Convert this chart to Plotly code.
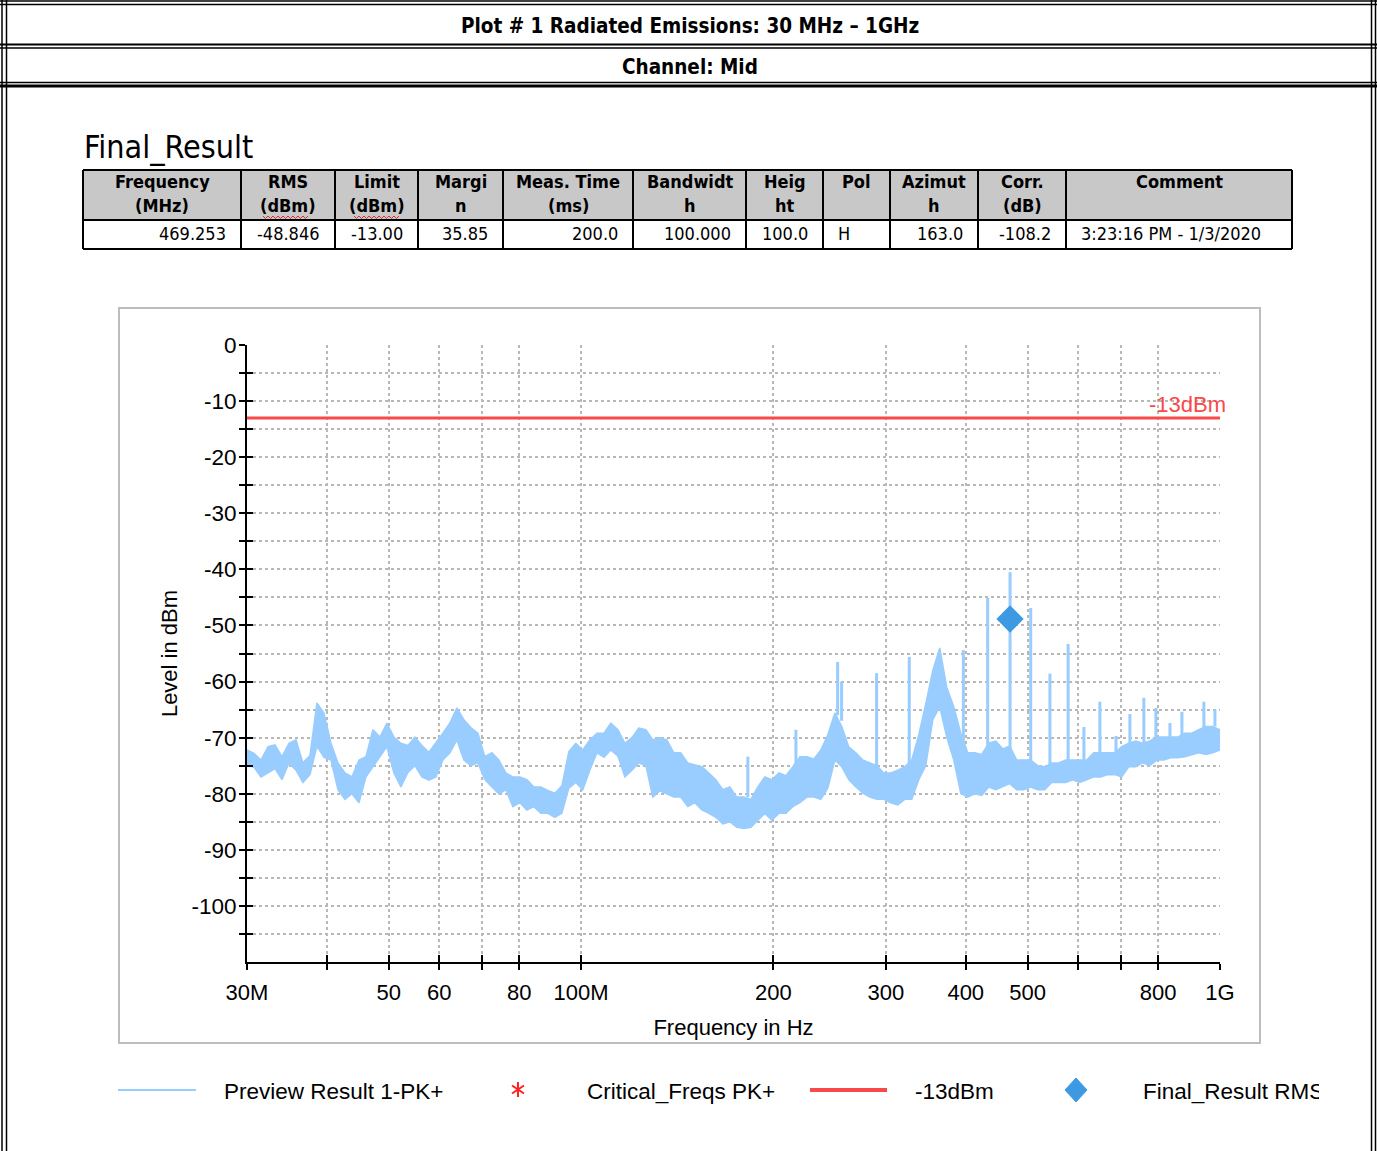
import math
import plotly.graph_objects as go

# ---------------- data ----------------
freq_mhz = [30.0, 30.77, 31.55, 32.36, 33.18, 34.03, 34.90, 35.79, 36.70, 37.64,
            38.60, 39.59, 40.60, 41.64, 42.70, 43.79, 44.91, 46.06, 47.23, 48.44,
            49.67, 50.94, 52.24, 53.58, 54.94, 56.35, 57.79, 59.26, 60.77, 62.33,
            63.92, 65.55, 67.22, 68.94, 70.70, 72.51, 74.36, 76.26, 78.21, 80.20,
            82.25, 84.35, 86.51, 88.72, 90.98, 93.31, 95.69, 98.13, 100.6, 103.2,
            105.9, 108.6, 111.3, 114.2, 117.1, 120.1, 123.1, 126.3, 129.5, 132.8,
            136.2, 139.7, 143.2, 146.9, 150.7, 154.5, 158.5, 162.5, 166.7, 170.9,
            175.3, 179.8, 184.4, 189.1, 193.9, 198.9, 204.0, 209.2, 214.5, 220.0,
            225.6, 231.4, 237.3, 243.3, 249.6, 255.9, 262.5, 269.2, 276.0, 283.1,
            290.3, 297.7, 305.3, 313.1, 321.1, 329.3, 337.7, 346.3, 355.2, 364.2,
            373.5, 383.1, 392.9, 402.9, 413.2, 423.7, 434.6, 445.7, 457.0, 468.7,
            480.7, 493.0, 505.5, 518.5, 531.7, 545.3, 559.2, 573.5, 588.1, 603.2,
            618.6, 634.4, 650.6, 667.2, 684.3, 701.8, 719.7, 738.1, 757.0, 776.3,
            796.2, 816.5, 837.4, 858.8, 880.7, 903.2, 926.3, 950.0, 974.3, 1000.0]

preview_upper_dbm = [-72.2, -72.8, -74.0, -71.6, -71.3, -73.4, -71.0, -70.4, -74.5, -73.2,
                     -63.8, -65.6, -71.0, -74.5, -76.3, -77.0, -74.0, -73.4, -68.6, -69.9,
                     -67.4, -69.9, -71.0, -71.4, -69.9, -71.4, -72.6, -71.0, -69.2, -67.4,
                     -64.7, -66.8, -68.2, -69.2, -73.4, -72.7, -74.0, -76.3, -77.0, -77.0,
                     -77.5, -78.8, -78.8, -79.4, -79.9, -78.6, -72.5, -71.0, -72.2, -70.4,
                     -69.2, -69.2, -67.4, -68.6, -71.0, -70.0, -68.3, -68.6, -70.4, -70.0,
                     -70.4, -72.7, -72.7, -74.5, -74.8, -75.2, -76.3, -77.5, -79.3, -78.8,
                     -80.6, -80.6, -81.0, -78.8, -77.0, -77.5, -76.3, -76.8, -75.2, -73.4,
                     -73.4, -73.8, -72.2, -69.5, -65.6, -68.0, -71.7, -72.7, -74.0, -74.5,
                     -75.0, -76.3, -76.3, -75.8, -75.2, -74.0, -69.5, -64.0, -58.0, -54.0,
                     -61.0, -64.5, -69.2, -72.7, -72.7, -73.0, -71.0, -70.6, -72.0, -71.5,
                     -74.0, -74.0, -74.0, -75.0, -75.2, -74.5, -74.5, -74.0, -74.0, -74.0,
                     -74.0, -72.7, -72.7, -72.7, -72.7, -71.6, -71.0, -70.6, -71.0, -70.6,
                     -69.9, -69.9, -69.9, -69.9, -69.2, -69.2, -68.6, -68.0, -68.0, -68.6]

preview_lower_dbm = [-74.9, -75.3, -77.0, -76.2, -75.5, -77.5, -74.5, -75.8, -78.0, -76.6,
                     -71.5, -73.5, -74.0, -79.3, -81.0, -80.0, -81.6, -77.0, -75.2, -73.4,
                     -71.6, -76.3, -78.8, -76.2, -75.0, -77.0, -77.6, -77.0, -74.0, -72.7,
                     -70.4, -74.0, -75.0, -74.5, -77.5, -78.8, -80.0, -79.3, -82.3, -81.6,
                     -82.9, -82.3, -83.5, -83.5, -84.2, -83.5, -79.0, -78.0, -79.3, -75.8,
                     -72.7, -73.5, -72.2, -73.3, -77.0, -75.8, -74.5, -75.0, -80.6, -79.5,
                     -80.0, -80.6, -80.6, -82.3, -81.6, -82.9, -83.5, -84.2, -85.4, -85.0,
                     -86.0, -86.2, -86.0, -84.7, -83.5, -84.7, -83.5, -83.5, -82.3, -81.6,
                     -80.6, -80.6, -81.0, -79.0, -74.0, -75.2, -77.5, -78.8, -79.9, -80.6,
                     -81.0, -81.0, -81.6, -82.0, -81.0, -81.0, -77.5, -75.0, -66.8, -64.5,
                     -69.9, -74.0, -79.9, -80.6, -80.0, -80.3, -78.8, -79.3, -78.8, -78.2,
                     -79.3, -79.3, -78.8, -79.3, -79.3, -78.0, -78.0, -78.0, -77.5, -78.0,
                     -77.5, -77.0, -77.0, -76.6, -76.6, -77.0, -75.2, -75.2, -74.5, -75.0,
                     -74.0, -74.0, -73.6, -73.6, -73.4, -73.0, -72.7, -73.0, -72.7, -72.2]

spike_freq_mhz = [182.4, 216.9, 252.1, 255.7, 290.1, 326.3, 396.6, 432.9, 469.25, 505.5,
                  541.8, 578.5, 612.4, 648.6, 687.4, 722.7, 760.0, 793.8, 835.0, 871.8,
                  943.6, 981.9]
spike_peak_dbm = [-73.4, -68.6, -56.5, -60.0, -58.5, -55.6, -54.4, -45.1, -40.5, -46.9,
                  -58.6, -53.3, -68.1, -63.6, -69.7, -65.8, -62.9, -64.7, -67.4, -65.4,
                  -63.6, -65.0]
spike_base_dbm = [-80.6, -75.2, -66.0, -67.0, -75.0, -75.0, -72.0, -72.0, -72.0, -74.0,
                  -75.0, -74.0, -74.0, -73.0, -73.0, -71.5, -71.0, -70.6, -70.0, -70.0,
                  -68.6, -68.0]

limit_freq_mhz = [30.0, 1000.0]
limit_dbm = [-13.0, -13.0]

final_freq_mhz = [469.253]
final_rms_dbm = [-48.846]

x_tickvals = [30, 40, 50, 60, 70, 80, 100, 200, 300, 400, 500, 600, 700, 800, 1000]
x_ticktext = ["30M", "", "50", "60", "", "80", "100M", "200", "300", "400", "500", "", "", "800", "1G"]
y_tickvals = [0, -5, -10, -15, -20, -25, -30, -35, -40, -45, -50, -55, -60, -65, -70,
              -75, -80, -85, -90, -95, -100, -105]
y_ticktext = ["0", "", "-10", "", "-20", "", "-30", "", "-40", "", "-50", "", "-60", "",
              "-70", "", "-80", "", "-90", "", "-100", ""]

title_line1 = "Plot # 1 Radiated Emissions: 30 MHz \u2013 1GHz"
title_line2 = "Channel: Mid"
table_title = "Final_Result"
table_head1 = ["Frequency", "RMS", "Limit", "Margi", "Meas. Time", "Bandwidt", "Heig", "Pol",
               "Azimut", "Corr.", "Comment"]
table_head2 = ["(MHz)", "(dBm)", "(dBm)", "n", "(ms)", "h", "ht", "", "h", "(dB)", ""]
table_row = ["469.253", "-48.846", "-13.00", "35.85", "200.0", "100.000", "100.0", "H",
             "163.0", "-108.2", "3:23:16 PM - 1/3/2020"]
table_row_align = ["right"] * 7 + ["left", "right", "right", "left"]
legend_names = ["Preview Result 1-PK+", "Critical_Freqs PK+", "-13dBm", "Final_Result RMS"]

# ---------------- styling / layout ----------------
W, H = 1377, 1151
L, R, T, B = 247, 1220, 345, 962
BLUE = "#99CCFF"
RED = "#F84A4A"
DIAMOND = "#3D9AE2"
GRID = "#B8B8B8"
NARROW = "DejaVu Sans Condensed, Liberation Sans Narrow, Arial Narrow, sans-serif"
SANS = "Liberation Sans, Arial, sans-serif"


def px(x):
    return (x - L) / (R - L)


def py(y):
    return (B - y) / (B - T)


fig = go.Figure()

# preview result band (lower + upper envelope, filled between)
fig.add_trace(go.Scatter(x=freq_mhz, y=preview_lower_dbm, mode="lines",
                         line=dict(color=BLUE, width=1.5), showlegend=False, hoverinfo="skip"))
fig.add_trace(go.Scatter(x=freq_mhz, y=preview_upper_dbm, mode="lines", fill="tonexty",
                         fillcolor=BLUE, line=dict(color=BLUE, width=1.5),
                         name=legend_names[0], showlegend=False))
sx, sy = [], []
for f, b, p in zip(spike_freq_mhz, spike_base_dbm, spike_peak_dbm):
    sx += [f, f, None]
    sy += [b, p, None]
fig.add_trace(go.Scatter(x=sx, y=sy, mode="lines", line=dict(color=BLUE, width=3),
                         showlegend=False, hoverinfo="skip"))
# limit line
fig.add_trace(go.Scatter(x=limit_freq_mhz, y=limit_dbm, mode="lines",
                         line=dict(color=RED, width=3), name=legend_names[2], showlegend=False))
# final result
fig.add_trace(go.Scatter(x=final_freq_mhz, y=final_rms_dbm, mode="markers",
                         marker=dict(symbol="diamond", size=21, color=DIAMOND),
                         name=legend_names[3], showlegend=False))
# dummy trace for the overlay axes (inside half of the crossing ticks)
fig.add_trace(go.Scatter(x=[None], y=[None], xaxis="x2", yaxis="y2", showlegend=False))

xr = [math.log10(30), 3]
fig.update_layout(
    width=W, height=H,
    margin=dict(l=L, r=W - R, t=T, b=H - B, pad=0),
    paper_bgcolor="white", plot_bgcolor="white",
    showlegend=False,
    xaxis=dict(type="log", range=xr, tickvals=x_tickvals, ticktext=x_ticktext,
               ticks="outside", ticklen=6, tickwidth=2, tickcolor="black",
               showline=True, linecolor="black", linewidth=2,
               showgrid=True, gridcolor=GRID, griddash="dot", gridwidth=1.5,
               zeroline=False, tickfont=dict(family=SANS, size=22, color="black"),
               ticklabelstandoff=4,
               title=dict(text="Frequency in Hz", font=dict(family=SANS, size=22, color="black"),
                          standoff=15)),
    yaxis=dict(range=[-110, 0], tickvals=y_tickvals, ticktext=y_ticktext,
               ticks="outside", ticklen=6, tickwidth=2, tickcolor="black",
               showline=True, linecolor="black", linewidth=2,
               showgrid=True, gridcolor=GRID, griddash="dot", gridwidth=1.5,
               zeroline=False, tickfont=dict(family=SANS, size=22.5, color="black"),
               ticklabelstandoff=-2,
               title=dict(text="Level in dBm", font=dict(family=SANS, size=22, color="black"),
                          standoff=8)),
    xaxis2=dict(type="log", range=xr, overlaying="x", anchor="y", side="bottom",
                tickvals=x_tickvals, ticks="inside", ticklen=7, tickwidth=2, tickcolor="black",
                showticklabels=False, showgrid=False, showline=False, zeroline=False),
    yaxis2=dict(range=[-110, 0], overlaying="y", anchor="x", side="left",
                tickvals=y_tickvals, ticks="inside", ticklen=6, tickwidth=2, tickcolor="black",
                showticklabels=False, showgrid=False, showline=False, zeroline=False),
)

shapes = []
ann = []


def hline(x0, x1, y, w=1.5, color="black"):
    shapes.append(dict(type="line", xref="paper", yref="paper", x0=px(x0), x1=px(x1),
                       y0=py(y), y1=py(y), line=dict(color=color, width=w)))


def vline(x, y0, y1, w=1.5, color="black"):
    shapes.append(dict(type="line", xref="paper", yref="paper", x0=px(x), x1=px(x),
                       y0=py(y0), y1=py(y1), line=dict(color=color, width=w)))


def text(x, y, s, size, family, color="black", xanchor="center", yanchor="middle", **kw):
    ann.append(dict(xref="paper", yref="paper", x=px(x), y=py(y), text=s, showarrow=False,
                    xanchor=xanchor, yanchor=yanchor,
                    font=dict(family=family, size=size, color=color), **kw))


# page frame (double lines)
vline(2, 0, H, 1.5)
vline(6.5, 0, H, 1.5)
vline(1371.5, 0, H, 1.5)
vline(1375.5, 0, H, 1.5)
hline(0, W, 1, 1.5)
hline(0, W, 4.5, 1.5)
hline(0, W, 44.5, 2)
hline(0, W, 48, 1.5)
hline(0, W, 82.5, 1.5)
hline(0, W, 86, 3)

text(690, 26, "<b>" + title_line1 + "</b>", 20.5, NARROW)
text(690, 67, "<b>" + title_line2 + "</b>", 20.5, NARROW)

# results table
cols = [83, 241, 335, 418, 503, 633, 746, 823, 890, 978, 1066, 1292]
shapes.append(dict(type="rect", xref="paper", yref="paper", x0=px(83), x1=px(1292),
                   y0=py(170), y1=py(220), fillcolor="#C8C8C8", line=dict(width=0), layer="below"))
hline(83, 1292, 170, 2)
hline(83, 1292, 220, 2)
hline(83, 1292, 249, 2)
for c in cols:
    vline(c, 170, 249, 2)
text(82, 147, table_title, 32, NARROW, xanchor="left")
for i in range(len(table_head1)):
    cx = (cols[i] + cols[i + 1]) / 2
    text(cx, 182, "<b>" + table_head1[i] + "</b>", 18, NARROW)
    if table_head2[i]:
        text(cx, 205, "<b>" + table_head2[i] + "</b>", 18, NARROW)
    if table_row_align[i] == "right":
        text(cols[i + 1] - 13, 234, table_row[i], 18, NARROW, xanchor="right")
    else:
        text(cols[i] + 13, 234, table_row[i], 18, NARROW, xanchor="left")
# red spell-check squiggles under "dBm"
for (a, b) in [(263, 310), (354, 400)]:
    pts = []
    xx = a
    k = 0
    while xx <= b:
        pts.append((px(xx), py(216 if k % 2 == 0 else 218.5)))
        xx += 2.5
        k += 1
    path = "M " + " L ".join(f"{u:.5f},{v:.5f}" for u, v in pts)
    shapes.append(dict(type="path", xref="paper", yref="paper", path=path,
                       line=dict(color="#E03030", width=1)))

# chart frame
shapes.append(dict(type="rect", xref="paper", yref="paper", x0=px(119), x1=px(1260),
                   y0=py(308), y1=py(1043), line=dict(color="#BDBDBD", width=2), layer="below"))

# -13dBm label on the limit line
text(1228, 404, "-13dBm", 22, SANS, color=RED, xanchor="right")

# legend (drawn)
hline(118, 196, 1090, 2, BLUE)
text(222, 1091, legend_names[0], 22.5, SANS, xanchor="left")
vline(518, 1082, 1097, 2, "#FF2020")
shapes.append(dict(type="line", xref="paper", yref="paper", x0=px(512), x1=px(524),
                   y0=py(1085.5), y1=py(1093.5), line=dict(color="#FF2020", width=2)))
shapes.append(dict(type="line", xref="paper", yref="paper", x0=px(512), x1=px(524),
                   y0=py(1093.5), y1=py(1085.5), line=dict(color="#FF2020", width=2)))
text(585, 1091, legend_names[1], 22.5, SANS, xanchor="left")
hline(810, 887, 1090, 4, RED)
text(913, 1091, legend_names[2], 22.5, SANS, xanchor="left")
dpath = (f"M {px(1076):.5f},{py(1078):.5f} L {px(1087):.5f},{py(1090):.5f} "
         f"L {px(1076):.5f},{py(1102):.5f} L {px(1065):.5f},{py(1090):.5f} Z")
shapes.append(dict(type="path", xref="paper", yref="paper", path=dpath,
                   fillcolor=DIAMOND, line=dict(color=DIAMOND, width=1)))
text(1141, 1091, legend_names[3], 22.5, SANS, xanchor="left", width=176, align="left")

fig.update_layout(shapes=shapes, annotations=ann)
fig.write_html("out.html")
